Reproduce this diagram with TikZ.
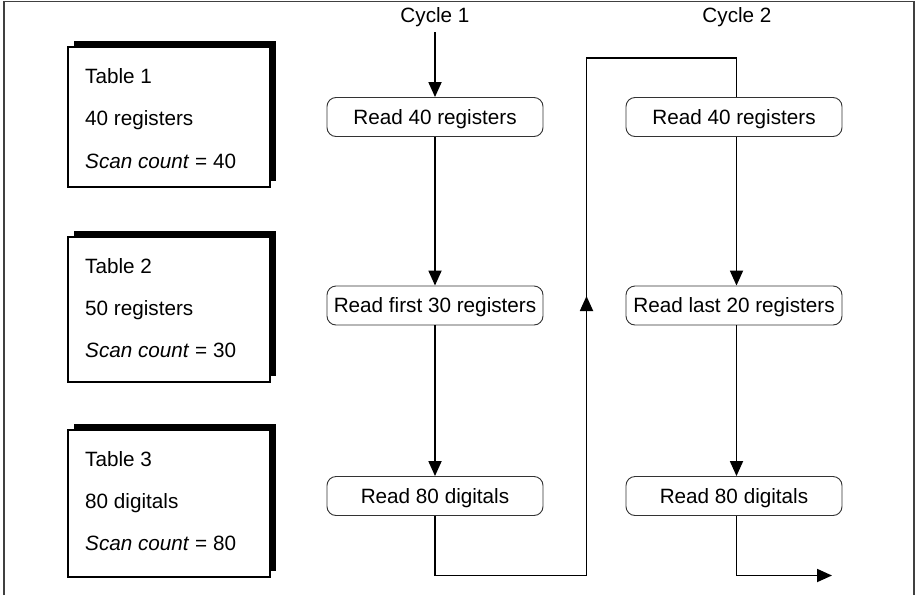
\documentclass[tikz,border=0pt]{standalone}
\usepackage{fontspec}
\setmainfont{Liberation Sans}
\usetikzlibrary{arrows.meta,shadows}
\begin{document}
\begin{tikzpicture}[x=1pt,y=-1pt,
  every node/.style={font=\fontsize{20.7}{24}\selectfont, inner sep=0pt},
  tablebox/.style={draw=black, line width=1.2pt, fill=white,
    drop shadow={shadow xshift=6pt, shadow yshift=6pt, opacity=1, fill=black}},
  procbox/.style={draw=black!80, line width=0.9pt, rounded corners=9pt, fill=white,
    minimum width=216pt, minimum height=39pt, text height=14.8pt, text depth=0pt},
  conn/.style={line width=1.8pt, black},
  arr/.style={conn, -{Triangle[length=15pt,width=13pt]}},
  frameline/.style={draw=black!75, line width=1.6pt},
  ttext/.style={anchor=base west}
]
\useasboundingbox (0,0) rectangle (919,595);
% outer frame (open at bottom)
\draw[frameline] (4,595) -- (4,1.5) -- (914,1.5) -- (914,595);

% tables
\node[tablebox, minimum width=202pt, minimum height=140pt] (t1) at (169,117) {};
\node[tablebox, minimum width=202pt, minimum height=145pt] (t2) at (169,309.5) {};
\node[tablebox, minimum width=202pt, minimum height=147pt] (t3) at (169,503.5) {};

\node[ttext] (t1a) at (85,83.5) {Table 1};
\node[ttext] (t1b) at (85,125) {40 registers};
\node[ttext] (t1c) at (85,168) {\textit{Scan count} = 40};
\node[ttext] (t2a) at (85,273.5) {Table 2};
\node[ttext] (t2b) at (85,315) {50 registers};
\node[ttext] (t2c) at (85,357) {\textit{Scan count} = 30};
\node[ttext] (t3a) at (85,466) {Table 3};
\node[ttext] (t3b) at (85,508) {80 digitals};
\node[ttext] (t3c) at (85,550) {\textit{Scan count} = 80};

% cycle labels
\node[anchor=base] (cy1) at (435,22) {Cycle 1};
\node[anchor=base] (cy2) at (737,22) {Cycle 2};

% process boxes
\node[procbox] (a1) at (435,117) {Read 40 registers};
\node[procbox] (a2) at (435,305.5) {Read first 30 registers};
\node[procbox] (a3) at (435,496) {Read 80 digitals};
\node[procbox] (b1) at (734,117) {Read 40 registers};
\node[procbox] (b2) at (734,305.5) {Read last 20 registers};
\node[procbox] (b3) at (734,496) {Read 80 digitals};

\coordinate (s1) at (435,32);
\coordinate (d1) at (435,575.5);
\coordinate (d2) at (586.5,575.5);
\coordinate (u1) at (586.5,58);
\coordinate (u2) at (736.5,58);
\coordinate (m1) at (586.5,322);
\coordinate (m2) at (586.5,296);
\coordinate (e1) at (736.5,575.5);
\coordinate (e2) at (832,575.5);

% connectors column 1
\draw[arr] (s1) -- (a1.north);
\draw[arr] (a1.south) -- (a2.north);
\draw[arr] (a2.south) -- (a3.north);
\draw[conn, line join=miter] (a3.south) -- (d1) -- (d2) -- (u1) -- (u2) -- (u2 |- b1.north);
\draw[arr] (m1) -- (m2);
% column 2
\draw[arr] (u2 |- b1.south) -- (u2 |- b2.north);
\draw[arr] (u2 |- b2.south) -- (u2 |- b3.north);
\draw[arr] (u2 |- b3.south) -- (e1) -- (e2);
\end{tikzpicture}
\end{document}
